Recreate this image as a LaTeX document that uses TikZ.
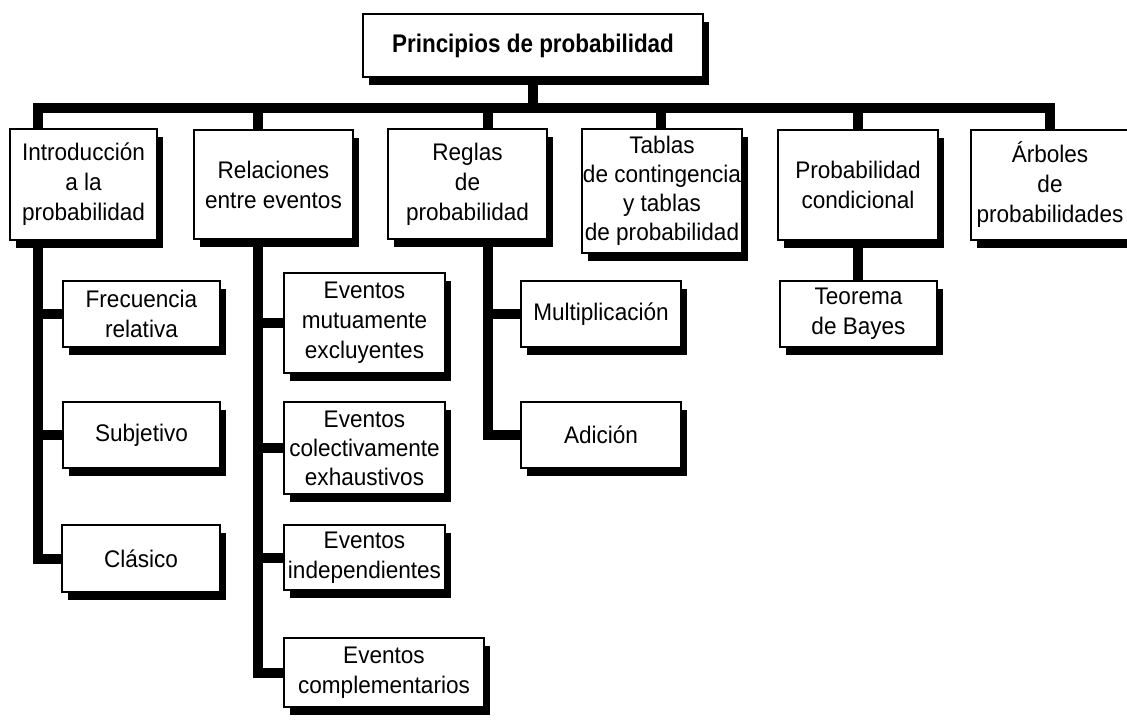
\documentclass[tikz,border=0pt]{standalone}
\usepackage{fontspec}
\setmainfont{Liberation Sans}
\newfontfamily\bodyfont[FakeStretch=0.94]{Liberation Sans}
\newfontfamily\titlefont[FakeStretch=0.88]{Liberation Sans}
\usetikzlibrary{shadows,backgrounds}
\pgfdeclarelayer{bgzero}
\pgfsetlayers{bgzero,background,main}
\begin{document}
\begin{tikzpicture}[x=1pt,y=-1pt,
  box/.style={draw=black, line width=1.2pt, fill=white, align=center, inner sep=0pt,
    font=\bodyfont\fontsize{24}{30}\selectfont,
    drop shadow={shadow xshift=6pt, shadow yshift=-8pt, opacity=1, fill=black}},
  conn/.style={line width=10pt, line join=miter, draw=black}]
\useasboundingbox (0,0) rectangle (1127,723);
\begin{pgfonlayer}{bgzero}
  \fill[white] (0,0) rectangle (1127,723);
\end{pgfonlayer}

% top
\node[box, minimum width=340pt, minimum height=63pt, font=\titlefont\bfseries\fontsize{25.5}{30}\selectfont]
  (top) at (533,45.5) {Principios de probabilidad};

% level 1
\node[box, minimum width=147pt, minimum height=111pt] (intro) at (83.5,184.5) {Introducción\\a la\\probabilidad};
\node[box, minimum width=159pt, minimum height=109pt] (rel) at (273.5,184.5) {Relaciones\\entre eventos};
\node[box, minimum width=159pt, minimum height=110pt] (reglas) at (467.5,184) {Reglas\\de\\probabilidad};
\node[box, minimum width=160pt, minimum height=124pt, font=\bodyfont\fontsize{24}{29}\selectfont] (tablas) at (662,191) {Tablas\\de contingencia\\y tablas\\de probabilidad};
\node[box, minimum width=160pt, minimum height=110pt] (cond) at (858,185) {Probabilidad\\condicional};
\node[box, minimum width=158pt, minimum height=110pt] (arboles) at (1050,185) {Árboles\\de\\probabilidades};

% level 2
\node[box, minimum width=157pt, minimum height=66pt] (frec) at (141.5,314) {Frecuencia\\relativa};
\node[box, minimum width=157pt, minimum height=66pt] (subj) at (141.5,435) {Subjetivo};
\node[box, minimum width=158pt, minimum height=67pt] (clas) at (141,558.5) {Clásico};

\node[box, minimum width=161pt, minimum height=100pt] (mutuo) at (364.5,323) {Eventos\\mutuamente\\excluyentes};
\node[box, minimum width=161pt, minimum height=92pt, font=\bodyfont\fontsize{24}{29}\selectfont] (colec) at (364.5,448) {Eventos\\colectivamente\\exhaustivos};
\node[box, minimum width=161pt, minimum height=65pt] (indep) at (364.5,557.5) {Eventos\\independientes};
\node[box, minimum width=200pt, minimum height=69pt] (compl) at (384,672.5) {Eventos\\complementarios};

\node[box, minimum width=160pt, minimum height=66pt] (multi) at (601,314) {Multiplicación};
\node[box, minimum width=160pt, minimum height=66pt] (adic) at (601,435) {Adición};

\node[box, minimum width=157pt, minimum height=66pt] (bayes) at (858.5,314) {Teorema\\de Bayes};

% connectors
\coordinate (b1) at (38,108);
\coordinate (b2) at (258,108);
\coordinate (b3) at (488,108);
\coordinate (b4) at (661,108);
\coordinate (b5) at (858,108);
\coordinate (b6) at (1050,108);

\begin{pgfonlayer}{background}
  \draw[conn, line cap=rect] (b1) -- (b6);
  \draw[conn] (top.center) -- (top.center |- b1);
  \draw[conn] (b1) |- (clas.west);
  \draw[conn] (frec.west) -- (frec.west -| b1);
  \draw[conn] (subj.west) -- (subj.west -| b1);
  \draw[conn] (b2) |- (compl.west);
  \draw[conn] (mutuo.west) -- (mutuo.west -| b2);
  \draw[conn] (colec.west) -- (colec.west -| b2);
  \draw[conn] (indep.west) -- (indep.west -| b2);
  \draw[conn] (b3) |- (adic.west);
  \draw[conn] (multi.west) -- (multi.west -| b3);
  \draw[conn] (b4) -- (b4 |- tablas.north);
  \draw[conn] (b5) -- (b5 |- bayes.north);
  \draw[conn] (b6) -- (b6 |- arboles.north);
\end{pgfonlayer}
\end{tikzpicture}
\end{document}
